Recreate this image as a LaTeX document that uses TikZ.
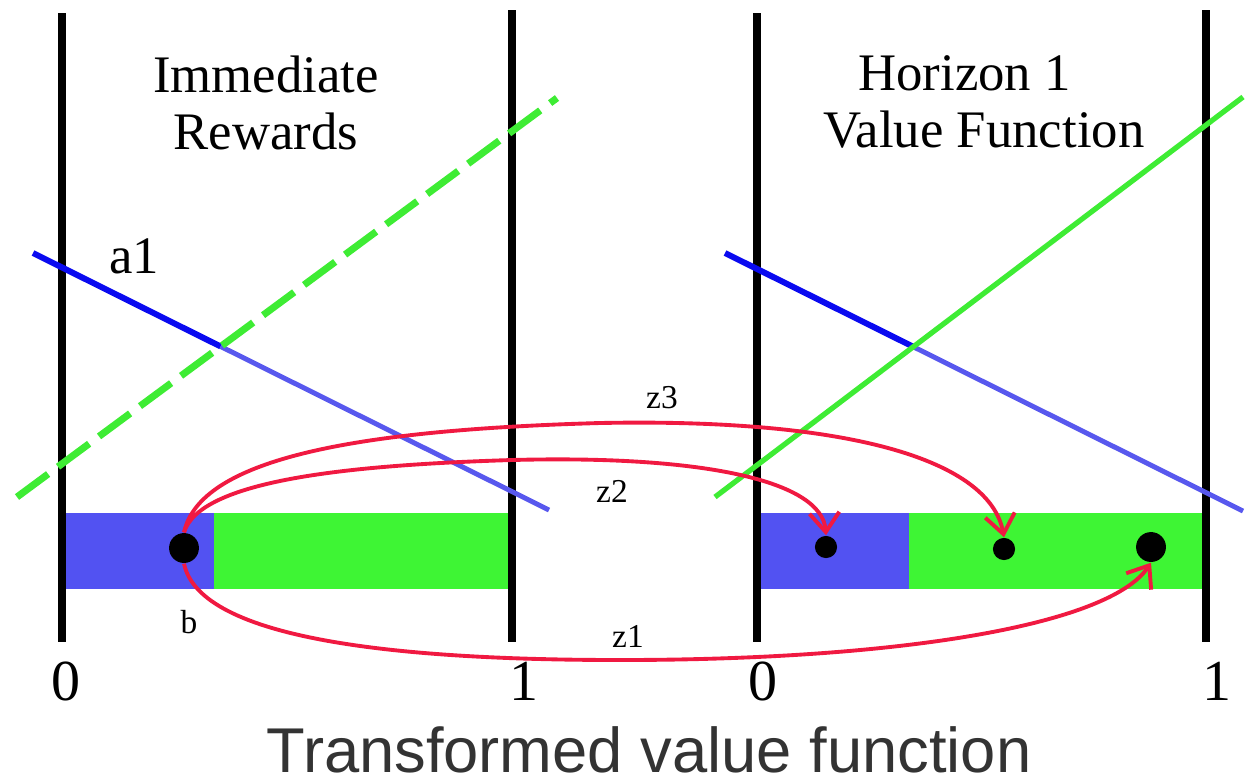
\documentclass[tikz,border=0pt]{standalone}
\usepackage{fontspec}
\setmainfont{Liberation Serif}
\newfontfamily\captionfont{Liberation Sans}
\usetikzlibrary{arrows.meta}

\definecolor{barblue}{RGB}{82,82,242}
\definecolor{bargreen}{RGB}{62,245,52}
\definecolor{darkblue}{RGB}{10,10,240}
\definecolor{lightblue}{RGB}{88,88,238}
\definecolor{linegreen}{RGB}{62,236,52}
\definecolor{zred}{RGB}{240,25,65}
\definecolor{captiongray}{RGB}{51,51,51}

\begin{document}
\begin{tikzpicture}[x=0.01cm, y=-0.01cm,
    axisline/.style={line width=2.2pt, black},
    bdot/.style={circle, fill=black, inner sep=0pt, minimum size=#1},
    zarrow/.style={zred, line width=1.1pt, -{Straight Barb[length=5.5pt, width=8.5pt]}},
    title/.style={align=center, inner sep=0pt, anchor=north, font=\fontsize{15}{16.2}\selectfont},
    small/.style={inner sep=0pt, font=\fontsize{9.5}{11}\selectfont},
    tick/.style={inner sep=0pt, anchor=base, font=\fontsize{16.5}{18}\selectfont}]
    \useasboundingbox (0,0) rectangle (1246,781);

    % belief bars
    \fill[barblue]  (62,513)  rectangle (214,589);
    \fill[bargreen] (214,513) rectangle (512,589);
    \fill[barblue]  (757,513) rectangle (909,589);
    \fill[bargreen] (909,513) rectangle (1206,589);

    % panel borders
    \draw[axisline] (62,13) -- (62,642);
    \draw[axisline] (512,10) -- (512,642);
    \draw[axisline] (757,13) -- (757,642);
    \draw[axisline] (1206,10) -- (1206,642);

    % immediate rewards
    \coordinate (ablue0) at (33,253);
    \coordinate (ablue1) at (549,510);
    \coordinate (agreen0) at (17,497);
    \coordinate (agreen1) at (557,98);
    \coordinate (across) at (intersection of ablue0--ablue1 and agreen0--agreen1);
    \draw[darkblue, line width=1.7pt] (ablue0) -- (across);
    \draw[lightblue, line width=1.4pt] (across) -- (ablue1);
    \draw[linegreen, line width=2pt, dash pattern=on 11pt off 3.5pt] (agreen0) -- (agreen1);

    % horizon 1 value function
    \coordinate (hblue0) at (725,253);
    \coordinate (hblue1) at (1243,511);
    \coordinate (hgreen0) at (715,497);
    \coordinate (hgreen1) at (1243,97);
    \coordinate (hcross) at (intersection of hblue0--hblue1 and hgreen0--hgreen1);
    \draw[darkblue, line width=1.7pt] (hblue0) -- (hcross);
    \draw[lightblue, line width=1.4pt] (hcross) -- (hblue1);
    \draw[linegreen, line width=1.5pt] (hgreen0) -- (hgreen1);

    % belief points
    \node[bdot=8.5pt] (b)   at (184,548)  {};
    \node[bdot=6.3pt] (bz2) at (826,547)  {};
    \node[bdot=6.3pt] (bz3) at (1004,549) {};
    \node[bdot=8.5pt] (bz1) at (1151,547) {};

    % transformations
    \draw[zarrow] (b.north) .. controls (200,480) and (350,465) .. (512,460)
        .. controls (700,455) and (822,480) .. (bz2.north);
    \draw[zarrow] (b.north) .. controls (200,460) and (350,430) .. (600,423)
        .. controls (850,418) and (990,460) .. (bz3.north);
    \draw[zarrow] (b.south) .. controls (200,640) and (400,660) .. (620,660)
        .. controls (900,660) and (1110,625) .. (bz1.south);

    % labels
    \node[title] (rewards) at (266,55) {Immediate\\Rewards};
    \node[title] (horizon) at (984,55) {Horizon 1\hspace*{11pt}\\Value Function};
    \node[inner sep=0pt, font=\fontsize{15}{18}\selectfont] (a1) at (134,256) {a1};
    \node[small] (blabel) at (189,622) {b};
    \node[small] (z3) at (662,398) {z3};
    \node[small] (z2) at (612,491) {z2};
    \node[small] (z1) at (628,636) {z1};
    \node[tick] (l0) at (66,700)   {0};
    \node[tick] (l1) at (524,700)  {1};
    \node[tick] (r0) at (763,700)  {0};
    \node[tick] (r1) at (1217,700) {1};
    \node[inner sep=0pt, anchor=base, text=captiongray,
          font=\captionfont\fontsize{18}{22}\selectfont] (caption) at (649,772)
        {Transformed value function};
\end{tikzpicture}
\end{document}
